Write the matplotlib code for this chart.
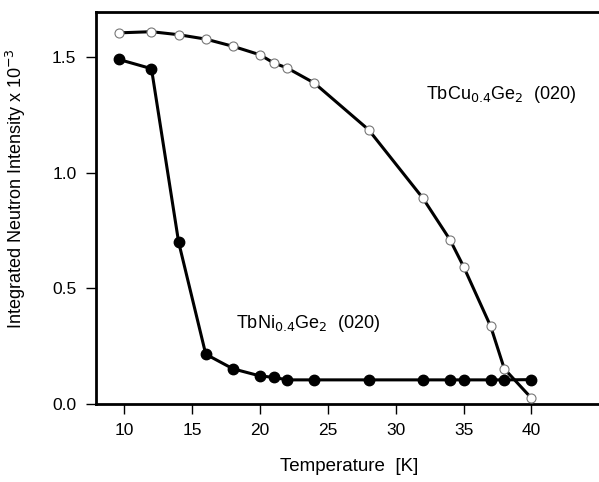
import matplotlib.pyplot as plt

plt.rcParams['font.family'] = ['Liberation Sans', 'DejaVu Sans']

# TbCu0.4Ge2 (020), open circles
t_cu = [9.6, 12, 14, 16, 18, 20, 21, 22, 24, 28, 32, 34, 35, 37, 38, 40]
i_cu = [1.605, 1.61, 1.597, 1.578, 1.547, 1.51, 1.475, 1.453, 1.388, 1.186,
        0.89, 0.71, 0.594, 0.335, 0.152, 0.025]

# TbNi0.4Ge2 (020), filled circles
t_ni = [9.6, 12, 14, 16, 18, 20, 21, 22, 24, 28, 32, 34, 35, 37, 38, 40]
i_ni = [1.49, 1.45, 0.70, 0.215, 0.152, 0.121, 0.115, 0.104, 0.104, 0.104,
        0.104, 0.104, 0.104, 0.104, 0.104, 0.105]

x_ticks = [10, 15, 20, 25, 30, 35, 40]
y_ticks = [0.0, 0.5, 1.0, 1.5]

fig = plt.figure(figsize=(5.99, 4.82), dpi=100)
ax = fig.add_axes([0.160, 0.162, 0.845, 0.813])

ax.plot(t_cu, i_cu, '-', color='black', lw=2.2, zorder=2)
ax.plot(t_cu, i_cu, 'o', mfc='white', mec='#777777', mew=0.8, ms=6.5, zorder=3)
ax.plot(t_ni, i_ni, '-o', color='black', lw=2.2, ms=7.5, zorder=4)

ax.text(32.2, 1.32, r'TbCu$_{0.4}$Ge$_2$  (020)', fontsize=13)
ax.text(18.2, 0.33, r'TbNi$_{0.4}$Ge$_2$  (020)', fontsize=13)

ax.set_xlim(7.9, 45.2)
ax.set_ylim(0, 1.695)
ax.set_xticks(x_ticks)
ax.set_yticks(y_ticks)
ax.set_yticklabels(['0.0', '0.5', '1.0', '1.5'])
ax.tick_params(direction='out', length=7, width=1, labelsize=12.5, pad=7)
for s in ['left', 'top', 'bottom']:
    ax.spines[s].set_linewidth(2)
ax.spines['right'].set_visible(False)

ax.set_xlabel('Temperature  [K]', fontsize=13.5, labelpad=14)
ax.set_ylabel(r'Integrated Neutron Intensity x 10$^{-3}$', fontsize=13)
ax.yaxis.set_label_coords(-0.135, 0.55)

fig.savefig('out.png', dpi=100)
